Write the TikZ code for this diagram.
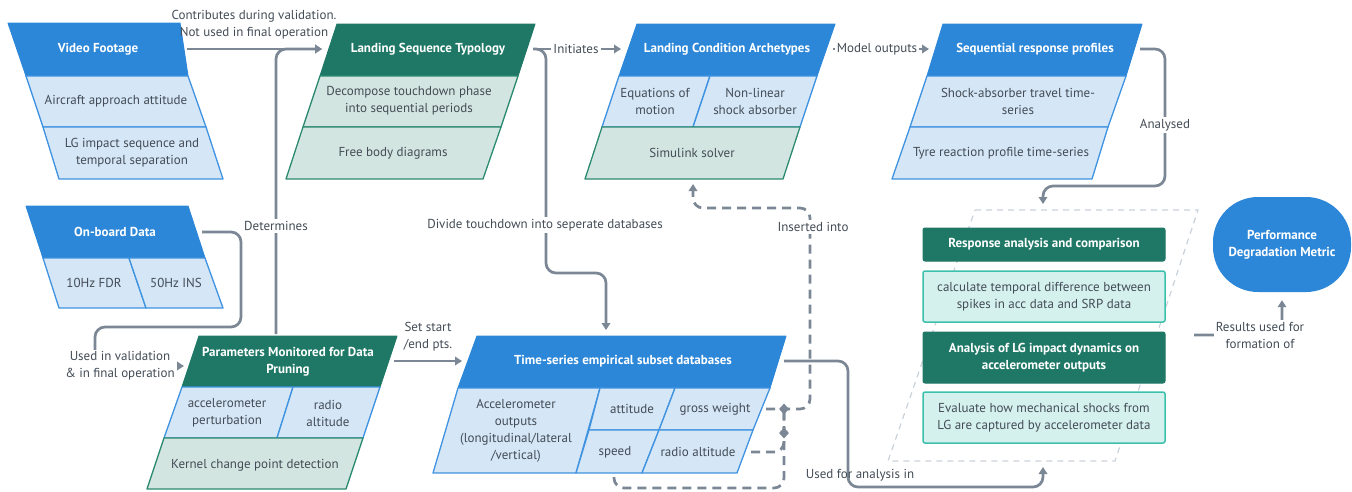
\documentclass[tikz,border=0pt]{standalone}
\usepackage{fontspec}
\setmainfont{PT Sans}
\usetikzlibrary{arrows.meta,shapes.geometric}

\definecolor{blueH}{HTML}{2C87D8}
\definecolor{blueL}{HTML}{D5E6F6}
\definecolor{blueB}{HTML}{3F93E0}
\definecolor{greenH}{HTML}{1F7866}
\definecolor{greenL}{HTML}{D3E5E1}
\definecolor{greenB}{HTML}{2C8A70}
\definecolor{tealL}{HTML}{D5F1EE}
\definecolor{tealB}{HTML}{3CC0AC}
\definecolor{conncol}{HTML}{7B8795}
\definecolor{txt}{HTML}{434C56}
\definecolor{dashc}{HTML}{C9D2DA}

\tikzset{
  hdrblue/.style={fill=blueH, draw=blueH, line width=1pt, line join=round},
  hdrgreen/.style={fill=greenH, draw=greenH, line width=1pt, line join=round},
  cellblue/.style={fill=blueL, draw=blueB, line width=1.3pt, line join=round},
  cellgreen/.style={fill=greenL, draw=greenB, line width=1.3pt, line join=round},
  boxdark/.style={fill=greenH, draw=greenH, rounded corners=2pt, line width=1pt},
  boxteal/.style={fill=tealL, draw=tealB, rounded corners=2pt, line width=1.5pt},
  htext/.style={text=white, font=\bfseries\fontsize{13}{17}\selectfont, align=center, inner sep=0pt},
  ctext/.style={text=txt, font=\fontsize{13}{17}\selectfont, align=center, inner sep=0pt},
  lbl/.style={text=txt, font=\fontsize{13}{17}\selectfont, align=center, fill=white, inner sep=2pt},
  conn/.style={draw=conncol, line width=2.7pt, rounded corners=10pt,
    -{Triangle[length=7pt,width=8.5pt]}},
  dconn/.style={conn, dash pattern=on 9pt off 6pt},
  dline/.style={draw=conncol, line width=2.7pt, rounded corners=10pt, dash pattern=on 9pt off 6pt},
  junction/.style={diamond, fill=conncol, inner sep=0pt, minimum width=10pt, minimum height=11pt},
}

\begin{document}
\begin{tikzpicture}[x=1pt,y=-1pt]
\useasboundingbox (0,0) rectangle (1352,491);

% ---------- Video Footage ----------
\path[hdrblue] (8,23) -- (180,23) -- (188,76) -- (26,76) -- cycle;
\path[cellblue] (26,76) -- (188,76) -- (206,127) -- (43,127) -- cycle;
\path[cellblue] (43,127) -- (206,127) -- (223,179) -- (59,179) -- cycle;
\node[htext] (vfh) at (98,49) {Video Footage};
\node[ctext] (vf1) at (116,101) {Aircraft approach attitude};
\node[ctext] (vf2) at (132,153) {LG impact sequence and\\temporal separation};
\coordinate (vf-e) at (187,49);

% ---------- On-board Data ----------
\path[hdrblue] (26,206) -- (188,206) -- (205,258) -- (43,258) -- cycle;
\path[cellblue] (43,258) -- (129,258) -- (146,308) -- (59,308) -- cycle;
\path[cellblue] (129,258) -- (205,258) -- (223,308) -- (146,308) -- cycle;
\node[htext] (obh) at (115,232) {On-board Data};
\node[ctext] (ob1) at (94,283) {10Hz FDR};
\node[ctext] (ob2) at (176,283) {50Hz INS};
\coordinate (ob-e) at (202,232);

% ---------- Landing Sequence Typology ----------
\path[hdrgreen] (337,24) -- (535,24) -- (518,76) -- (320,76) -- cycle;
\path[cellgreen] (320,76) -- (518,76) -- (501,127) -- (303,127) -- cycle;
\path[cellgreen] (303,127) -- (501,127) -- (483,179) -- (286,179) -- cycle;
\node[htext] (lsth) at (428,49) {Landing Sequence Typology};
\node[ctext] (lst1) at (409,101) {Decompose touchdown phase\\into sequential periods};
\node[ctext] (lst2) at (393,153) {Free body diagrams};
\coordinate (lst-w) at (322,49);
\coordinate (lst-e) at (533,49);

% ---------- Landing Condition Archetypes ----------
\path[hdrblue] (637,24) -- (835,24) -- (817,76) -- (619,76) -- cycle;
\path[cellblue] (619,76) -- (710,76) -- (693,127) -- (602,127) -- cycle;
\path[cellblue] (710,76) -- (817,76) -- (800,127) -- (693,127) -- cycle;
\path[cellgreen] (602,127) -- (800,127) -- (783,179) -- (585,179) -- cycle;
\node[htext] (lcah) at (727,49) {Landing Condition Archetypes};
\node[ctext] (lca1) at (655,101) {Equations of\\motion};
\node[ctext] (lca2) at (755,101) {Non-linear\\shock absorber};
\node[ctext] (lca3) at (692,153) {Simulink solver};
\coordinate (lca-w) at (621,49);
\coordinate (lca-e) at (833,49);
\coordinate (sim-s) at (693,184);

% ---------- Sequential response profiles ----------
\path[hdrblue] (943,24) -- (1142,24) -- (1126,76) -- (927,76) -- cycle;
\path[cellblue] (927,76) -- (1126,76) -- (1108,127) -- (910,127) -- cycle;
\path[cellblue] (910,127) -- (1108,127) -- (1092,179) -- (892,179) -- cycle;
\node[htext] (srph) at (1035,49) {Sequential response profiles};
\node[ctext] (srp1) at (1018,101) {Shock-absorber travel time-\\series};
\node[ctext] (srp2) at (1001,153) {Tyre reaction profile time-series};
\coordinate (srp-w) at (929,49);
\coordinate (srp-e) at (1140,49);

% ---------- Parameters Monitored for Data Pruning ----------
\path[hdrgreen] (199,336) -- (397,336) -- (380,387) -- (182,387) -- cycle;
\path[cellblue] (182,387) -- (293,387) -- (277,438) -- (164,438) -- cycle;
\path[cellblue] (293,387) -- (380,387) -- (363,438) -- (277,438) -- cycle;
\path[cellgreen] (164,438) -- (363,438) -- (346,489) -- (147,489) -- cycle;
\node[htext] (pmh) at (288,362) {Parameters Monitored for Data\\Pruning};
\node[ctext] (pm1) at (227,413) {accelerometer\\perturbation};
\node[ctext] (pm2) at (328,413) {radio\\altitude};
\node[ctext] (pm3) at (255,465) {Kernel change point detection};
\coordinate (pm-n) at (276,334);
\coordinate (pm-w) at (184,366);
\coordinate (pm-e) at (394,361);

% ---------- Time-series empirical subset databases ----------
\path[hdrblue] (477,336) -- (786,336) -- (770,388) -- (458,388) -- cycle;
\path[cellblue] (458,388) -- (600,388) -- (576,473) -- (433,473) -- cycle;
\path[cellblue] (600,388) -- (675,388) -- (659,430) -- (589,430) -- cycle;
\path[cellblue] (675,388) -- (770,388) -- (753,430) -- (659,430) -- cycle;
\path[cellblue] (589,430) -- (659,430) -- (642,473) -- (576,473) -- cycle;
\path[cellblue] (659,430) -- (753,430) -- (737,473) -- (642,473) -- cycle;
\node[htext] (tsh) at (623,361) {Time-series empirical subset databases};
\node[ctext] (ts1) at (516,431) {Accelerometer\\outputs\\(longitudinal/lateral\\/vertical)};
\node[ctext] (ts2) at (632,409) {attitude};
\node[ctext] (ts3) at (715,409) {gross weight};
\node[ctext] (ts4) at (615,452) {speed};
\node[ctext] (ts5) at (698,452) {radio altitude};
\coordinate (ts-n) at (606,330);
\coordinate (ts-w) at (462,361);
\coordinate (ts-e) at (784,361);
\coordinate (gw-e) at (766,409);
\coordinate (ra-e) at (751,452);
\coordinate (sp-s) at (614,477);

% ---------- Analysis group ----------
\draw[dashc, line width=1.2pt, dash pattern=on 6pt off 5pt]
  (975,210) -- (1198,210) -- (1115,461) -- (888,461) -- cycle;
\path[boxdark] (923,228) rectangle (1165,261);
\path[boxteal] (923,271) rectangle (1165,322);
\path[boxdark] (923,332) rectangle (1165,383);
\path[boxteal] (923,392) rectangle (1165,443);
\node[htext] (ra1) at (1044,244.5) {Response analysis and comparison};
\node[ctext] (ra2) at (1044,296.5) {calculate temporal difference between\\spikes in acc data and SRP data};
\node[htext] (ra3) at (1044,357.5) {Analysis of LG impact dynamics on\\accelerometer outputs};
\node[ctext] (ra4) at (1044,417.5) {Evaluate how mechanical shocks from\\LG are captured by accelerometer data};
\coordinate (dc-n) at (1043,204);
\coordinate (dc-s) at (1043,467);
\coordinate (dc-e) at (1194,335);

% ---------- Performance Degradation Metric ----------
\node[fill=blueH, rounded corners=45pt, minimum width=138pt, minimum height=95pt,
  text=white, font=\bfseries\fontsize{13}{17}\selectfont, align=center]
  (pdm) at (1282,244.5) {Performance\\Degradation Metric};

% ---------- Connectors ----------
\draw[conn] (vf-e) -- (lst-w);
\node[text=txt, font=\fontsize{13}{17}\selectfont, align=center] (l1) at (254,24.5)
  {Contributes during validation.\\Not used in final operation};

\draw[conn] (pm-n) |- (lst-w);
\node[lbl] (l2) at (276,226) {Determines};

\draw[conn] (ob-e) -- (241,232) -- (241,327) -- (95,327) -- (95,366) -- (pm-w);
\node[lbl, fill=white] (l3) at (120,366) {Used in validation\\\& in final operation};

\draw[conn] (lst-e) -- (lca-w);
\node[lbl] (l4) at (576,49) {Initiates};

\draw[conn] (lst-e) -- (546,49) -- (546,273) -- (606,273) -- (ts-n);
\node[lbl] (l5) at (545,225) {Divide touchdown into seperate databases};

\draw[conn] (lca-e) -- (srp-w);
\node[lbl] (l6) at (877,49) {Model outputs};

\draw[conn] (srp-e) -- (1165,49) -- (1165,186) -- (1043,186) -- (dc-n);
\node[lbl] (l7) at (1165,125) {Analysed};

\draw[conn] (pm-e) -- (ts-w);
\node[text=txt, font=\fontsize{13}{17}\selectfont, align=center] (l8) at (428,336.5)
  {Set start\\/end pts.};

\draw[conn] (ts-e) -- (848,361) -- (848,487) -- (1043,487) -- (dc-s);
\node[text=txt, font=\fontsize{13}{17}\selectfont] (l9) at (860,475) {Used for analysis in};

\draw[conn, shorten >=8pt] (dc-e) -- (1282,335) -- (pdm.south);
\node[lbl] (l10) at (1260,335.5) {Results used for\\formation of};

% dashed feeds into the solver
\draw[dline] (sp-s) -- (614,488) -- (784,488) -- (784,409);
\draw[dline] (ra-e) -- (784,452) -- (784,409);
\draw[dconn] (gw-e) -- (810,409) -- (810,208) -- (693,208) -- (sim-s);
\node[lbl] (l11) at (813,227) {Inserted into};
\node[junction] (j1) at (784,409) {};
\node[junction] (j2) at (784,433) {};

\end{tikzpicture}
\end{document}
